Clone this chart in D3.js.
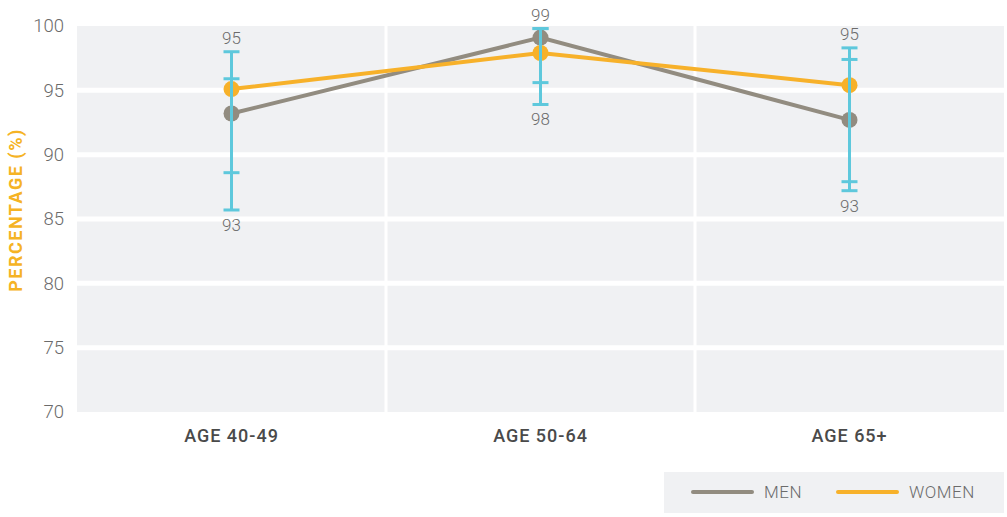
<!DOCTYPE html>
<html><head><meta charset="utf-8">
<script src="https://cdn.jsdelivr.net/npm/d3@7"></script>
<style>
body{margin:0;background:#fff;}
text{font-family:Roboto,"Noto Sans",sans-serif;}
</style></head>
<body><svg id="c" width="1007" height="517"></svg>
<script>
const categories = ["AGE 40-49","AGE 50-64","AGE 65+"];
const menValues = [93.2, 99.1, 92.7];
const womenValues = [95.1, 97.9, 95.4];
const menLow = [85.7, 95.6, 87.2];
const menHigh = [95.9, 99.8, 97.4];
const womenLow = [88.6, 93.9, 87.9];
const womenHigh = [98.0, 99.8, 98.3];
const topLabels = ["95","99","95"];
const bottomLabels = ["93","98","93"];
const yTicks = [70,75,80,85,90,95,100];
const seriesNames = ["MEN","WOMEN"];

const svg = d3.select("#c");
const L=77, R=1004, T=26, B=412;
const x = d3.scaleBand().domain(categories).range([L,R]);
const y = d3.scaleLinear().domain([70,100]).range([B,T]);
const menColor="#928c80", womenColor="#f7b12a", errColor="#5ec8dc";

svg.append("rect").attr("x",L).attr("y",T).attr("width",R-L).attr("height",B-T).attr("fill","#f0f1f3");
svg.append("g").selectAll("line").data(yTicks.filter(d=>d>70&&d<100)).join("line")
  .attr("x1",L).attr("x2",R).attr("y1",d=>y(d)).attr("y2",d=>y(d))
  .attr("stroke","#fff").attr("stroke-width",5);
svg.append("g").selectAll("line").data(categories.slice(1)).join("line")
  .attr("x1",d=>x(d)).attr("x2",d=>x(d)).attr("y1",T).attr("y2",B)
  .attr("stroke","#fff").attr("stroke-width",3);

const yAxis = d3.axisLeft(y).tickValues(yTicks).tickSize(0).tickPadding(0);
const ga = svg.append("g").attr("transform",`translate(64,0)`).call(yAxis);
ga.select(".domain").remove();
ga.selectAll("text").attr("font-size",18.5).attr("fill","#6b6b6b").attr("font-family","Roboto,sans-serif").attr("font-weight",300);

const xAxis = d3.axisBottom(x).tickSize(0).tickPadding(0);
const gx = svg.append("g").attr("transform",`translate(0,429)`).call(xAxis);
gx.select(".domain").remove();
gx.selectAll("text").attr("font-size",18).attr("fill","#4a4a4a").attr("font-weight",500)
  .attr("letter-spacing",1).attr("font-family","Roboto,sans-serif");

svg.append("text").attr("transform","translate(22,210) rotate(-90)").attr("text-anchor","middle")
  .attr("font-size",18).attr("font-weight",700).attr("letter-spacing",1.5).attr("fill","#f5b324").text("PERCENTAGE (%)");

const cx = d => x(d)+x.bandwidth()/2;
const line = d3.line().x(d=>cx(d[0])).y(d=>y(d[1]));
const menData = categories.map((c,i)=>[c,menValues[i]]);
const womenData = categories.map((c,i)=>[c,womenValues[i]]);

svg.append("path").datum(menData).attr("d",line).attr("fill","none").attr("stroke",menColor).attr("stroke-width",4);
svg.append("g").selectAll("circle").data(menData).join("circle")
  .attr("cx",d=>cx(d[0])).attr("cy",d=>y(d[1])).attr("r",8).attr("fill",menColor);
svg.append("path").datum(womenData).attr("d",line).attr("fill","none").attr("stroke",womenColor).attr("stroke-width",4);
svg.append("g").selectAll("circle").data(womenData).join("circle")
  .attr("cx",d=>cx(d[0])).attr("cy",d=>y(d[1])).attr("r",8).attr("fill",womenColor);

const errs = [];
categories.forEach((c,i)=>{
  errs.push({c,lo:menLow[i],hi:menHigh[i]});
  errs.push({c,lo:womenLow[i],hi:womenHigh[i]});
});
const ge = svg.append("g");
errs.forEach(e=>{
  ge.append("line").attr("x1",cx(e.c)).attr("x2",cx(e.c)).attr("y1",y(e.lo)).attr("y2",y(e.hi)).attr("stroke",errColor).attr("stroke-width",3);
  [e.lo,e.hi].forEach(v=>{
    ge.append("line").attr("x1",cx(e.c)-8).attr("x2",cx(e.c)+8).attr("y1",y(v)).attr("y2",y(v)).attr("stroke",errColor).attr("stroke-width",3);
  });
});

categories.forEach((c,i)=>{
  const hi = Math.max(menHigh[i],womenHigh[i]);
  const lo = Math.min(menLow[i],womenLow[i]);
  svg.append("text").attr("x",cx(c)).attr("y",y(hi)-8).attr("text-anchor","middle")
    .attr("font-size",17).attr("font-weight",300).attr("fill","#6b6b6b").text(topLabels[i]);
  svg.append("text").attr("x",cx(c)).attr("y",y(lo)+21).attr("text-anchor","middle")
    .attr("font-size",17).attr("font-weight",300).attr("fill","#6b6b6b").text(bottomLabels[i]);
});

svg.append("rect").attr("x",664).attr("y",472).attr("width",340).attr("height",41).attr("fill","#f0f1f3");
const lg = [{n:seriesNames[0],c:menColor,x:693},{n:seriesNames[1],c:womenColor,x:838}];
lg.forEach(l=>{
  svg.append("line").attr("x1",l.x).attr("x2",l.x+59).attr("y1",492).attr("y2",492).attr("stroke",l.c).attr("stroke-width",4).attr("stroke-linecap","round");
  svg.append("text").attr("x",l.x+71).attr("y",498).attr("font-size",17).attr("font-weight",300).attr("letter-spacing",0.5).attr("fill","#6b6b6b").text(l.n);
});
</script></body></html>
